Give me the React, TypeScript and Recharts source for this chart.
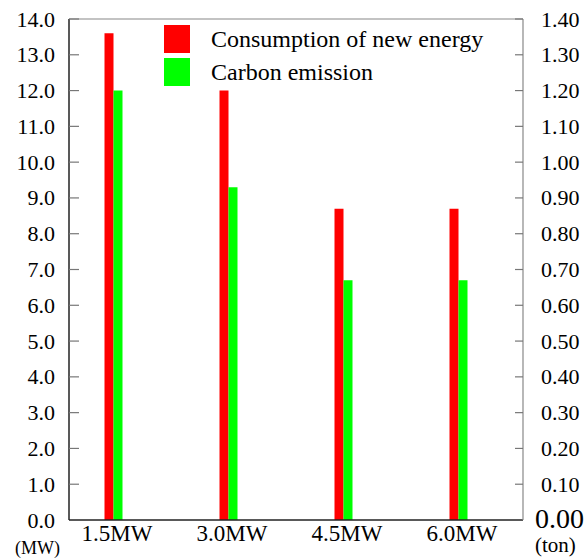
import React from "react";
import { BarChart, Bar, XAxis, YAxis, Legend, ReferenceLine } from "recharts";

const categories = ["1.5MW", "3.0MW", "4.5MW", "6.0MW"];
const consumption = [13.6, 12.0, 8.7, 8.7];
const carbon = [1.2, 0.93, 0.67, 0.67];
const leftTicks = [0, 1, 2, 3, 4, 5, 6, 7, 8, 9, 10, 11, 12, 13, 14];
const rightTicks = [0, 0.1, 0.2, 0.3, 0.4, 0.5, 0.6, 0.7, 0.8, 0.9, 1.0, 1.1, 1.2, 1.3, 1.4];
const seriesNames = ["Consumption of new energy", "Carbon emission"];
const colors = ["#ff0000", "#00ff00"];

const data = categories.map((c, i) => ({ name: c, consumption: consumption[i], carbon: carbon[i] }));

const FONT = "Liberation Serif, Times New Roman, serif";
const LEFT_MARGIN = 14;
const RIGHT_MARGIN = 18;

const LeftTick = (props: any) => {
  const { x, y, payload } = props;
  const v = Number(payload.value);
  const axisX = x + LEFT_MARGIN;
  return (
    <g>
      {v !== 0 && <line x1={axisX} x2={axisX + 10} y1={y} y2={y} stroke="#777" strokeWidth={1.2} />}
      <text x={x} y={y} textAnchor="end" dominantBaseline="central" style={{ fontFamily: FONT, fontSize: 22 }} fill="#000">
        {v.toFixed(1)}
      </text>
      {v === 0 && (
        <text x={x + 5} y={y + 28} textAnchor="end" dominantBaseline="central" style={{ fontFamily: FONT, fontSize: 18 }} fill="#000">
          (MW)
        </text>
      )}
    </g>
  );
};

const RightTick = (props: any) => {
  const { x, y, payload } = props;
  const v = Number(payload.value);
  const axisX = x - RIGHT_MARGIN;
  if (v === 0) {
    return (
      <g>
        <text x={x - 6} y={y - 2} textAnchor="start" dominantBaseline="central" style={{ fontFamily: FONT, fontSize: 28 }} fill="#000">
          {v.toFixed(2)}
        </text>
        <text x={x - 6} y={y + 25} textAnchor="start" dominantBaseline="central" style={{ fontFamily: FONT, fontSize: 21 }} fill="#000">
          (ton)
        </text>
      </g>
    );
  }
  return (
    <g>
      <line x1={axisX - 8} x2={axisX} y1={y} y2={y} stroke="#777" strokeWidth={1.2} />
      <text x={x} y={y} textAnchor="start" dominantBaseline="central" style={{ fontFamily: FONT, fontSize: 22 }} fill="#000">
        {v.toFixed(2)}
      </text>
    </g>
  );
};

const XTick = (props: any) => {
  const { x, y, payload } = props;
  return (
    <text x={x + 4} y={y + 13} textAnchor="middle" dominantBaseline="central" style={{ fontFamily: FONT, fontSize: 23 }} fill="#000">
      {payload.value}
    </text>
  );
};

const LegendContent = () => (
  <div style={{ fontFamily: FONT, fontSize: 24, color: "#000" }}>
    {seriesNames.map((n, i) => (
      <div key={n} style={{ display: "flex", alignItems: "center", height: 28, marginBottom: 5 }}>
        <div style={{ width: 26, height: 28, background: colors[i], marginRight: 21 }} />
        <span style={{ lineHeight: "28px", whiteSpace: "nowrap" }}>{n}</span>
      </div>
    ))}
  </div>
);

export default function App() {
  return (
    <div style={{ position: "absolute", left: 0, top: 0, width: 587, height: 558, background: "#fff" }}>
      <BarChart
        width={587}
        height={558}
        data={data}
        margin={{ top: 19, right: 0, bottom: 0, left: 0 }}
        barGap={0}
        barCategoryGap={0}
      >
        <XAxis
          dataKey="name"
          xAxisId="x"
          height={38}
          padding={{ left: -13.5, right: 7.5 }}
          tickLine={false}
          tickSize={0}
          tickMargin={0}
          axisLine={{ stroke: "#222", strokeWidth: 1.5 }}
          tick={<XTick />}
          interval={0}
        />
        <YAxis
          yAxisId="left"
          orientation="left"
          width={69}
          domain={[0, 14]}
          ticks={leftTicks}
          interval={0}
          tickLine={false}
          tickSize={0}
          tickMargin={LEFT_MARGIN}
          axisLine={{ stroke: "#222", strokeWidth: 1.5 }}
          tick={<LeftTick />}
        />
        <YAxis
          yAxisId="right"
          orientation="right"
          width={64}
          domain={[0, 1.4]}
          ticks={rightTicks}
          interval={0}
          tickLine={false}
          tickSize={0}
          tickMargin={RIGHT_MARGIN}
          axisLine={{ stroke: "#888", strokeWidth: 1.2 }}
          tick={<RightTick />}
        />
        <ReferenceLine yAxisId="left" xAxisId="x" y={14} stroke="#888" strokeWidth={1.2} />
        <Legend
          layout="horizontal"
          verticalAlign="middle"
          align="center"
          content={<LegendContent />}
          wrapperStyle={{ position: "absolute", left: 164, top: 25, width: "auto" }}
        />
        <Bar
          dataKey="consumption"
          name={seriesNames[0]}
          xAxisId="x"
          yAxisId="left"
          fill={colors[0]}
          barSize={9}
          isAnimationActive={false}
        />
        <Bar
          dataKey="carbon"
          name={seriesNames[1]}
          xAxisId="x"
          yAxisId="right"
          fill={colors[1]}
          barSize={9}
          isAnimationActive={false}
        />
      </BarChart>
    </div>
  );
}
